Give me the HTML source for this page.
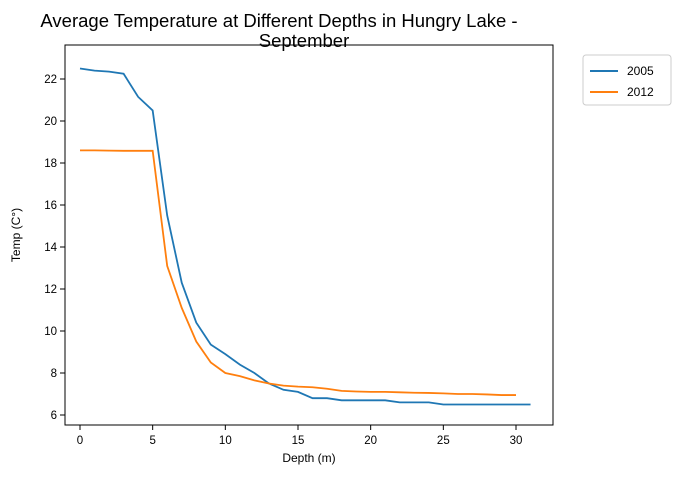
<!DOCTYPE html>
<html><head><meta charset="utf-8"><style>
body{margin:0;background:#fff;}
svg{font-family:"Liberation Sans","DejaVu Sans",sans-serif;}
</style></head><body>
<svg id="c" width="679" height="475" xmlns="http://www.w3.org/2000/svg">
<rect width="679" height="475" fill="#fff"/>
<text x="279" y="27" font-size="18.5" text-anchor="middle">Average Temperature at Different Depths in Hungry Lake -</text>
<text x="304" y="47" font-size="18.5" text-anchor="middle">September</text>
<g id="plot"></g>
<rect x="65" y="45" width="488" height="380" fill="none" stroke="#000" stroke-width="1"/>
<text x="309" y="462" font-size="12" text-anchor="middle">Depth (m)</text>
<text x="20" y="235" font-size="12" text-anchor="middle" transform="rotate(-90 20 235)">Temp (C°)</text>
<g>
<rect x="583" y="55" width="88" height="50" rx="3" fill="#fff" stroke="#ccc"/>
<line x1="590" y1="71" x2="618" y2="71" stroke="#1f77b4" stroke-width="2"/>
<text x="627" y="75" font-size="12">2005</text>
<line x1="590" y1="92" x2="618" y2="92" stroke="#ff7f0e" stroke-width="2"/>
<text x="627" y="96" font-size="12">2012</text>
</g>
</svg>
<script>
const xTicks=[0,5,10,15,20,25,30];
const yTicks=[6,8,10,12,14,16,18,20,22];
const depths2005=[0,1,2,3,4,5,6,7,8,9,10,11,12,13,14,15,16,17,18,19,20,21,22,23,24,25,26,27,28,29,30,31];
const temps2005=[22.5,22.4,22.35,22.25,21.15,20.5,15.5,12.3,10.4,9.35,8.9,8.4,8.0,7.5,7.2,7.1,6.8,6.8,6.7,6.7,6.7,6.7,6.6,6.6,6.6,6.5,6.5,6.5,6.5,6.5,6.5,6.5];
const depths2012=[0,1,2,3,4,5,6,7,8,9,10,11,12,13,14,15,16,17,18,19,20,21,22,23,24,25,26,27,28,29,30];
const temps2012=[18.6,18.6,18.59,18.58,18.58,18.58,13.1,11.1,9.5,8.5,8.0,7.85,7.65,7.5,7.4,7.35,7.32,7.25,7.15,7.12,7.1,7.1,7.08,7.06,7.05,7.03,7.0,7.0,6.98,6.95,6.95];
const X=v=>80+v*(436/30);
const Y=v=>415-(v-6)*21;
const ns="http://www.w3.org/2000/svg";
const g=document.getElementById('plot');
function mk(t,a){const e=document.createElementNS(ns,t);for(const k in a)e.setAttribute(k,a[k]);g.appendChild(e);return e;}
xTicks.forEach(t=>{
 const l=mk('line',{x1:X(t),x2:X(t),y1:425,y2:430,stroke:'#000'});
 
 
 const s=mk('text',{x:X(t),y:444,'font-size':11.5,'text-anchor':'middle'});s.textContent=t;
 
 
});
yTicks.forEach(t=>{
 const l=mk('line',{x1:60,x2:65,y1:Y(t),y2:Y(t),stroke:'#000'});
 
 
 const s=mk('text',{x:57,y:Y(t)+4,'font-size':11.5,'text-anchor':'end'});s.textContent=t;
 
 
});
function line(xs,ys,c,n){
 const p=mk('polyline',{points:xs.map((x,i)=>X(x)+','+Y(ys[i])).join(' '),fill:'none',stroke:c,'stroke-width':1.8});
 
 
}
line(depths2005,temps2005,'#1f77b4','series-2005');
line(depths2012,temps2012,'#ff7f0e','series-2012');
</script>
</body></html>
